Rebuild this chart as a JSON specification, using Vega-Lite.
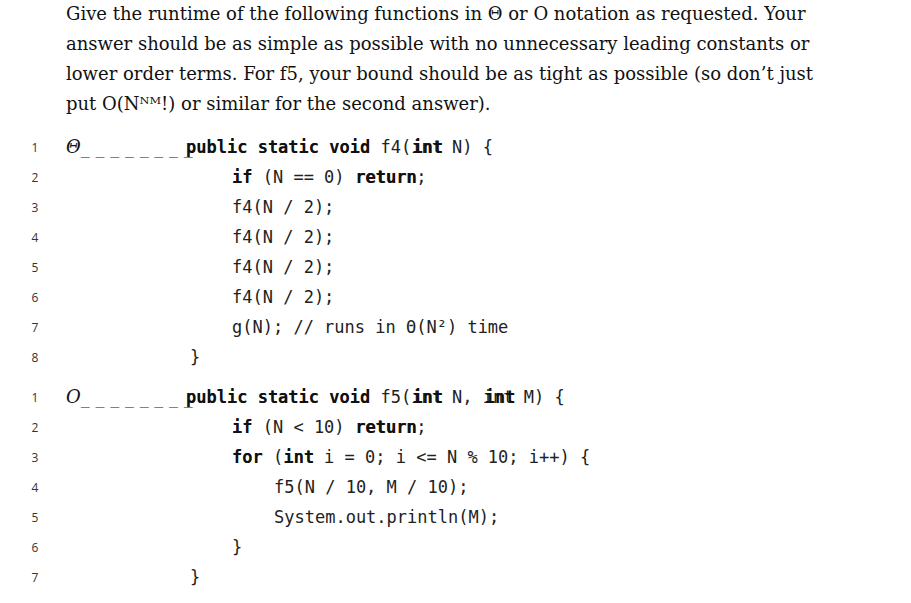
{
  "$schema": "https://vega.github.io/schema/vega-lite/v6.json",
  "width": 911,
  "height": 603,
  "padding": 0,
  "autosize": "none",
  "background": "white",
  "config": {"view": {"stroke": null}},
  "data": {
    "values": [
      {"kind": "para", "x": 66, "y": 15, "t": "Give the runtime of the following functions in Θ or O notation as requested. Your"},
      {"kind": "para", "x": 66, "y": 45, "t": "answer should be as simple as possible with no unnecessary leading constants or"},
      {"kind": "para", "x": 66, "y": 75, "t": "lower order terms. For f5, your bound should be as tight as possible (so don’t just"},
      {"kind": "para", "x": 66, "y": 105, "t": "put O(Nᴺᴹ!) or similar for the second answer)."},
      {"kind": "label", "x": 66, "y": 148, "t": "Θ_ _ _ _ _ _ _ _"},
      {"kind": "label", "x": 66, "y": 398, "t": "O_ _ _ _ _ _ _ _"},
      {"kind": "num", "x": 35, "y": 148, "t": "1"},
      {"kind": "num", "x": 35, "y": 178, "t": "2"},
      {"kind": "num", "x": 35, "y": 208, "t": "3"},
      {"kind": "num", "x": 35, "y": 238, "t": "4"},
      {"kind": "num", "x": 35, "y": 268, "t": "5"},
      {"kind": "num", "x": 35, "y": 298, "t": "6"},
      {"kind": "num", "x": 35, "y": 328, "t": "7"},
      {"kind": "num", "x": 35, "y": 358, "t": "8"},
      {"kind": "num", "x": 35, "y": 398, "t": "1"},
      {"kind": "num", "x": 35, "y": 428, "t": "2"},
      {"kind": "num", "x": 35, "y": 458, "t": "3"},
      {"kind": "num", "x": 35, "y": 488, "t": "4"},
      {"kind": "num", "x": 35, "y": 518, "t": "5"},
      {"kind": "num", "x": 35, "y": 548, "t": "6"},
      {"kind": "num", "x": 35, "y": 578, "t": "7"},
      {"kind": "code", "x": 186, "y": 148, "t": "public static void f4(int N) {"},
      {"kind": "code", "x": 232, "y": 178, "t": "if (N == 0) return;"},
      {"kind": "code", "x": 232, "y": 208, "t": "f4(N / 2);"},
      {"kind": "code", "x": 232, "y": 238, "t": "f4(N / 2);"},
      {"kind": "code", "x": 232, "y": 268, "t": "f4(N / 2);"},
      {"kind": "code", "x": 232, "y": 298, "t": "f4(N / 2);"},
      {"kind": "code", "x": 232, "y": 328, "t": "g(N); // runs in Θ(N²) time"},
      {"kind": "code", "x": 190, "y": 358, "t": "}"},
      {"kind": "code", "x": 186, "y": 398, "t": "public static void f5(int N, int M) {"},
      {"kind": "code", "x": 232, "y": 428, "t": "if (N < 10) return;"},
      {"kind": "code", "x": 232, "y": 458, "t": "for (int i = 0; i <= N % 10; i++) {"},
      {"kind": "code", "x": 274, "y": 488, "t": "f5(N / 10, M / 10);"},
      {"kind": "code", "x": 274, "y": 518, "t": "System.out.println(M);"},
      {"kind": "code", "x": 232, "y": 548, "t": "}"},
      {"kind": "code", "x": 190, "y": 578, "t": "}"},
      {"kind": "bold", "x": 186, "y": 148, "t": "public static void"},
      {"kind": "bold", "x": 412.6, "y": 148, "t": "int"},
      {"kind": "bold", "x": 232, "y": 178, "t": "if"},
      {"kind": "bold", "x": 355.6, "y": 178, "t": "return"},
      {"kind": "bold", "x": 186, "y": 398, "t": "public static void"},
      {"kind": "bold", "x": 412.6, "y": 398, "t": "int"},
      {"kind": "bold", "x": 484.7, "y": 398, "t": "int"},
      {"kind": "bold", "x": 232, "y": 428, "t": "if"},
      {"kind": "bold", "x": 355.6, "y": 428, "t": "return"},
      {"kind": "bold", "x": 232, "y": 458, "t": "for"},
      {"kind": "bold", "x": 283.5, "y": 458, "t": "int"}
    ]
  },
  "encoding": {
    "x": {"field": "x", "type": "quantitative", "scale": {"domain": [0, 911], "range": [0, 911], "nice": false, "zero": false}, "axis": null},
    "y": {"field": "y", "type": "quantitative", "scale": {"domain": [0, 603], "range": [0, 603], "nice": false, "zero": false}, "axis": null},
    "text": {"field": "t"}
  },
  "layer": [
    {"transform": [{"filter": "datum.kind == 'para'"}], "mark": {"type": "text", "align": "left", "baseline": "middle", "font": "DejaVu Serif", "fontSize": 18, "color": "#111"}},
    {"transform": [{"filter": "datum.kind == 'label'"}], "mark": {"type": "text", "align": "left", "baseline": "middle", "font": "DejaVu Serif", "fontSize": 18, "fontStyle": "italic", "color": "#111"}},
    {"transform": [{"filter": "datum.kind == 'num'"}], "mark": {"type": "text", "align": "center", "baseline": "middle", "font": "Open Sans", "fontSize": 12, "color": "#333"}},
    {"transform": [{"filter": "datum.kind == 'code'"}], "mark": {"type": "text", "align": "left", "baseline": "middle", "font": "DejaVu Sans Mono", "fontSize": 17, "color": "#222"}},
    {"transform": [{"filter": "datum.kind == 'bold'"}], "mark": {"type": "text", "align": "left", "baseline": "middle", "font": "DejaVu Sans Mono", "fontSize": 17, "fontWeight": "bold", "color": "#111"}}
  ]
}
